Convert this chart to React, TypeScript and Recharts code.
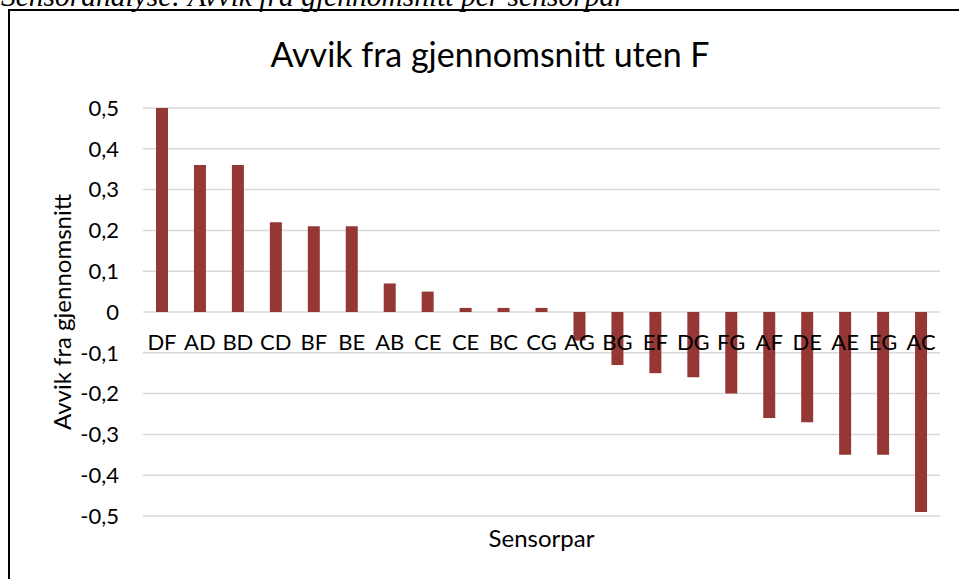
import React from 'react';
import { BarChart, Bar, XAxis, YAxis, CartesianGrid } from 'recharts';

const categories = ['DF', 'AD', 'BD', 'CD', 'BF', 'BE', 'AB', 'CE', 'CE', 'BC', 'CG', 'AG', 'BG', 'EF', 'DG', 'FG', 'AF', 'DE', 'AE', 'EG', 'AC'];
const values = [0.5, 0.36, 0.36, 0.22, 0.21, 0.21, 0.07, 0.05, 0.01, 0.01, 0.01, -0.07, -0.13, -0.15, -0.16, -0.2, -0.26, -0.27, -0.35, -0.35, -0.49];
const yTicks = [0.5, 0.4, 0.3, 0.2, 0.1, 0, -0.1, -0.2, -0.3, -0.4, -0.5];

const chartTitle = 'Avvik fra gjennomsnitt uten F';
const yLabel = 'Avvik fra gjennomsnitt';
const xLabel = 'Sensorpar';
const caption = 'Sensoranalyse: Avvik fra gjennomsnitt per sensorpar';

const data = categories.map((c, i) => ({ idx: i, name: c, value: values[i] }));

const W = 959;
const H = 579;
const PLOT_TOP = 108;
const PLOT_BOTTOM = 516;
const PLOT_LEFT = 143;
const PLOT_RIGHT = 940;
const Y_AXIS_W = 60;
const ZERO_Y = (PLOT_TOP + PLOT_BOTTOM) / 2;
const FONT = 'Lato, "Noto Sans", sans-serif';
const BAR_COLOR = '#953735';

const fmt = (v: number) => (Math.abs(v) < 1e-9 ? '0' : v.toFixed(1).replace('.', ','));

const XTick = (props: any) => {
  const { x, payload } = props;
  return (
    <text x={x} y={ZERO_Y + 38} textAnchor="middle" fontFamily={FONT} fontSize={22} fill="#000">
      {categories[payload.value]}
    </text>
  );
};

export default function App() {
  return (
    <div style={{ position: 'absolute', left: 0, top: 0, width: W, height: H, overflow: 'hidden', background: '#fff' }}>
      <div style={{ position: 'absolute', left: 8, top: 9, width: 1000, height: 700, border: '2px solid #000', boxSizing: 'border-box' }} />
      <svg style={{ position: 'absolute', left: 0, top: 0 }} width={W} height={H}>
        <text x={1} y={6} fontFamily='"Liberation Serif", "DejaVu Serif", serif' fontStyle="italic" fontSize={29.5} fill="#000">
          {caption}
        </text>
        <text x={490} y={67} textAnchor="middle" fontFamily={FONT} fontSize={34} fill="#000">
          {chartTitle}
        </text>
        <text x={71} y={ZERO_Y} textAnchor="middle" fontFamily={FONT} fontSize={24} fill="#000" transform={`rotate(-90 71 ${ZERO_Y})`}>
          {yLabel}
        </text>
        <text x={(PLOT_LEFT + PLOT_RIGHT) / 2} y={547} textAnchor="middle" fontFamily={FONT} fontSize={24} fill="#000">
          {xLabel}
        </text>
      </svg>
      <div style={{ position: 'absolute', left: 0, top: 0 }}>
        <BarChart
          width={W}
          height={H}
          data={data}
          margin={{ top: PLOT_TOP, right: W - PLOT_RIGHT, bottom: 0, left: PLOT_LEFT - Y_AXIS_W }}
          barCategoryGap="34%"
        >
          <CartesianGrid vertical={false} stroke="#d9d9d9" strokeWidth={1.5} />
          <XAxis
            dataKey="idx"
            type="category"
            height={H - PLOT_BOTTOM}
            axisLine={false}
            tickLine={false}
            interval={0}
            tick={<XTick />}
          />
          <YAxis
            width={Y_AXIS_W}
            domain={[-0.5, 0.5]}
            ticks={yTicks}
            interval={0}
            axisLine={false}
            tickLine={false}
            tickMargin={18}
            tickFormatter={fmt}
            tick={{ fontFamily: FONT, fontSize: 22, fill: '#000' }}
          />
          <Bar dataKey="value" fill={BAR_COLOR} barSize={12} isAnimationActive={false} />
        </BarChart>
      </div>
    </div>
  );
}
